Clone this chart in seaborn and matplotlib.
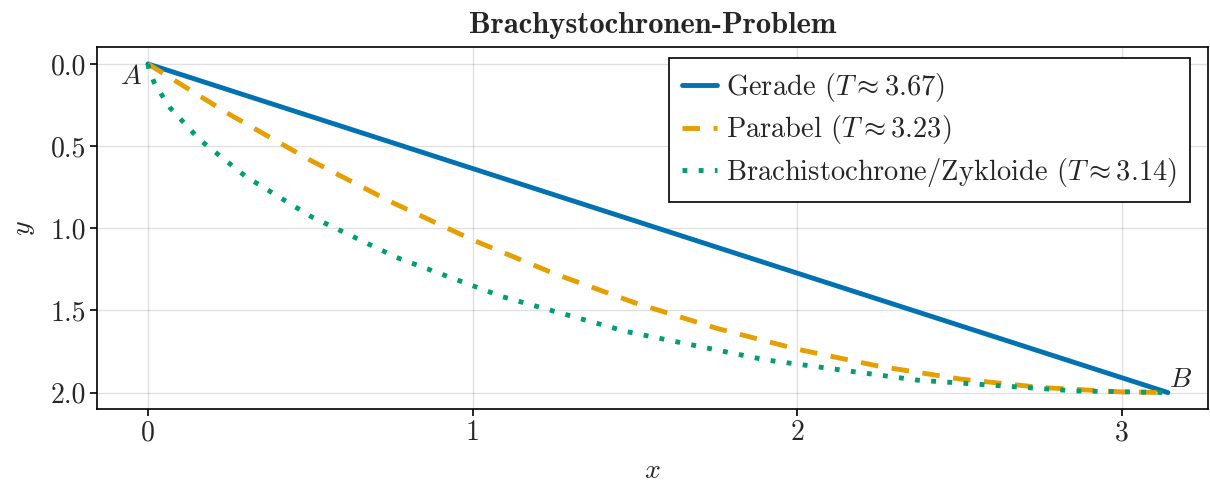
import numpy as np
import pandas as pd
import matplotlib
matplotlib.use("Agg")
import matplotlib.pyplot as plt
import seaborn as sns

# --- data ---
gerade_x = [0.0, 3.1416]
gerade_y = [0.0, 2.0]

parabel_x = [0.0, 0.25, 0.5, 0.75, 1.0, 1.25, 1.5, 1.75, 2.0, 2.25, 2.5, 2.75, 3.0, 3.1416]
parabel_y = [0.0, 0.306, 0.586, 0.841, 1.071, 1.275, 1.454, 1.608, 1.736, 1.839, 1.917, 1.969, 1.996, 2.0]

zykloide_x = [0.0, 0.0002, 0.0026, 0.0206, 0.0684, 0.1585, 0.3010, 0.5025, 0.7660,
              1.0907, 1.4719, 1.9015, 2.3683, 2.8589, 3.1416]
zykloide_y = [0.0, 0.005, 0.031, 0.122, 0.268, 0.460, 0.685, 0.929, 1.178,
              1.416, 1.628, 1.801, 1.924, 1.990, 2.0]

labels = [r"Gerade ($T \approx 3.67$)",
          r"Parabel ($T \approx 3.23$)",
          r"Brachistochrone/Zykloide ($T \approx 3.14$)"]
colors = ["#0072B2", "#E69F00", "#009E73"]
x_ticks = [0, 1, 2, 3]
y_ticks = [0.0, 0.5, 1.0, 1.5, 2.0]

sns.set_theme(style="white")
plt.rcParams["font.family"] = ["cmr10", "DejaVu Serif"]
plt.rcParams["mathtext.fontset"] = "cm"
plt.rcParams["axes.formatter.use_mathtext"] = True
plt.rcParams["axes.unicode_minus"] = False

FS = 20
fig = plt.figure(figsize=(12.1, 4.83), dpi=100)
ax = fig.add_axes([0.0802, 0.1532, 0.9181, 0.7495])

lw = 3.5
sns.lineplot(x=gerade_x, y=gerade_y, ax=ax, color=colors[0], lw=lw,
             label=labels[0], sort=False, estimator=None)
sns.lineplot(x=parabel_x, y=parabel_y, ax=ax, color=colors[1], lw=lw,
             label=labels[1], sort=False, estimator=None, linestyle=(0, (3.6, 2.8)))
sns.lineplot(x=zykloide_x, y=zykloide_y, ax=ax, color=colors[2], lw=lw,
             label=labels[2], sort=False, estimator=None, linestyle=(0, (1.0, 2.33)))

ax.set_xlim(-0.157, 3.265)
ax.set_ylim(2.1, -0.103)
ax.set_xticks(x_ticks)
ax.set_xticklabels([str(v) for v in x_ticks])
ax.set_yticks(y_ticks)
ax.set_yticklabels([f"{v:.1f}" for v in y_ticks])

ax.grid(True, color="black", alpha=0.12, lw=1.0)
for s in ax.spines.values():
    s.set_color("black")
    s.set_linewidth(1.2)
ax.tick_params(axis="both", which="major", length=5, width=1.2, color="black",
               labelsize=FS, pad=3, direction="out", bottom=True, left=True)

ax.set_xlabel(r"$x$", fontsize=FS, labelpad=8)
ax.set_ylabel(r"$y$", fontsize=FS, labelpad=10)
ax.set_title("Brachystochronen-Problem", fontsize=22, fontfamily="cmb10", pad=10)

ax.annotate(r"$A$", xy=(gerade_x[0], gerade_y[0]), xytext=(-12, -9),
            textcoords="offset points", fontsize=FS, ha="center", va="center")
ax.annotate(r"$B$", xy=(gerade_x[-1], gerade_y[-1]), xytext=(9, 9),
            textcoords="offset points", fontsize=FS, ha="center", va="center")

leg = ax.legend(loc="upper right", fontsize=20.5, frameon=True, fancybox=False,
                edgecolor="black", framealpha=1.0, handlelength=1.23,
                handletextpad=0.32, borderpad=0.45, labelspacing=0.34,
                borderaxespad=0.0, bbox_to_anchor=(0.9838, 0.9696))
leg.get_frame().set_linewidth(1.2)

fig.savefig("out.png", dpi=100)
